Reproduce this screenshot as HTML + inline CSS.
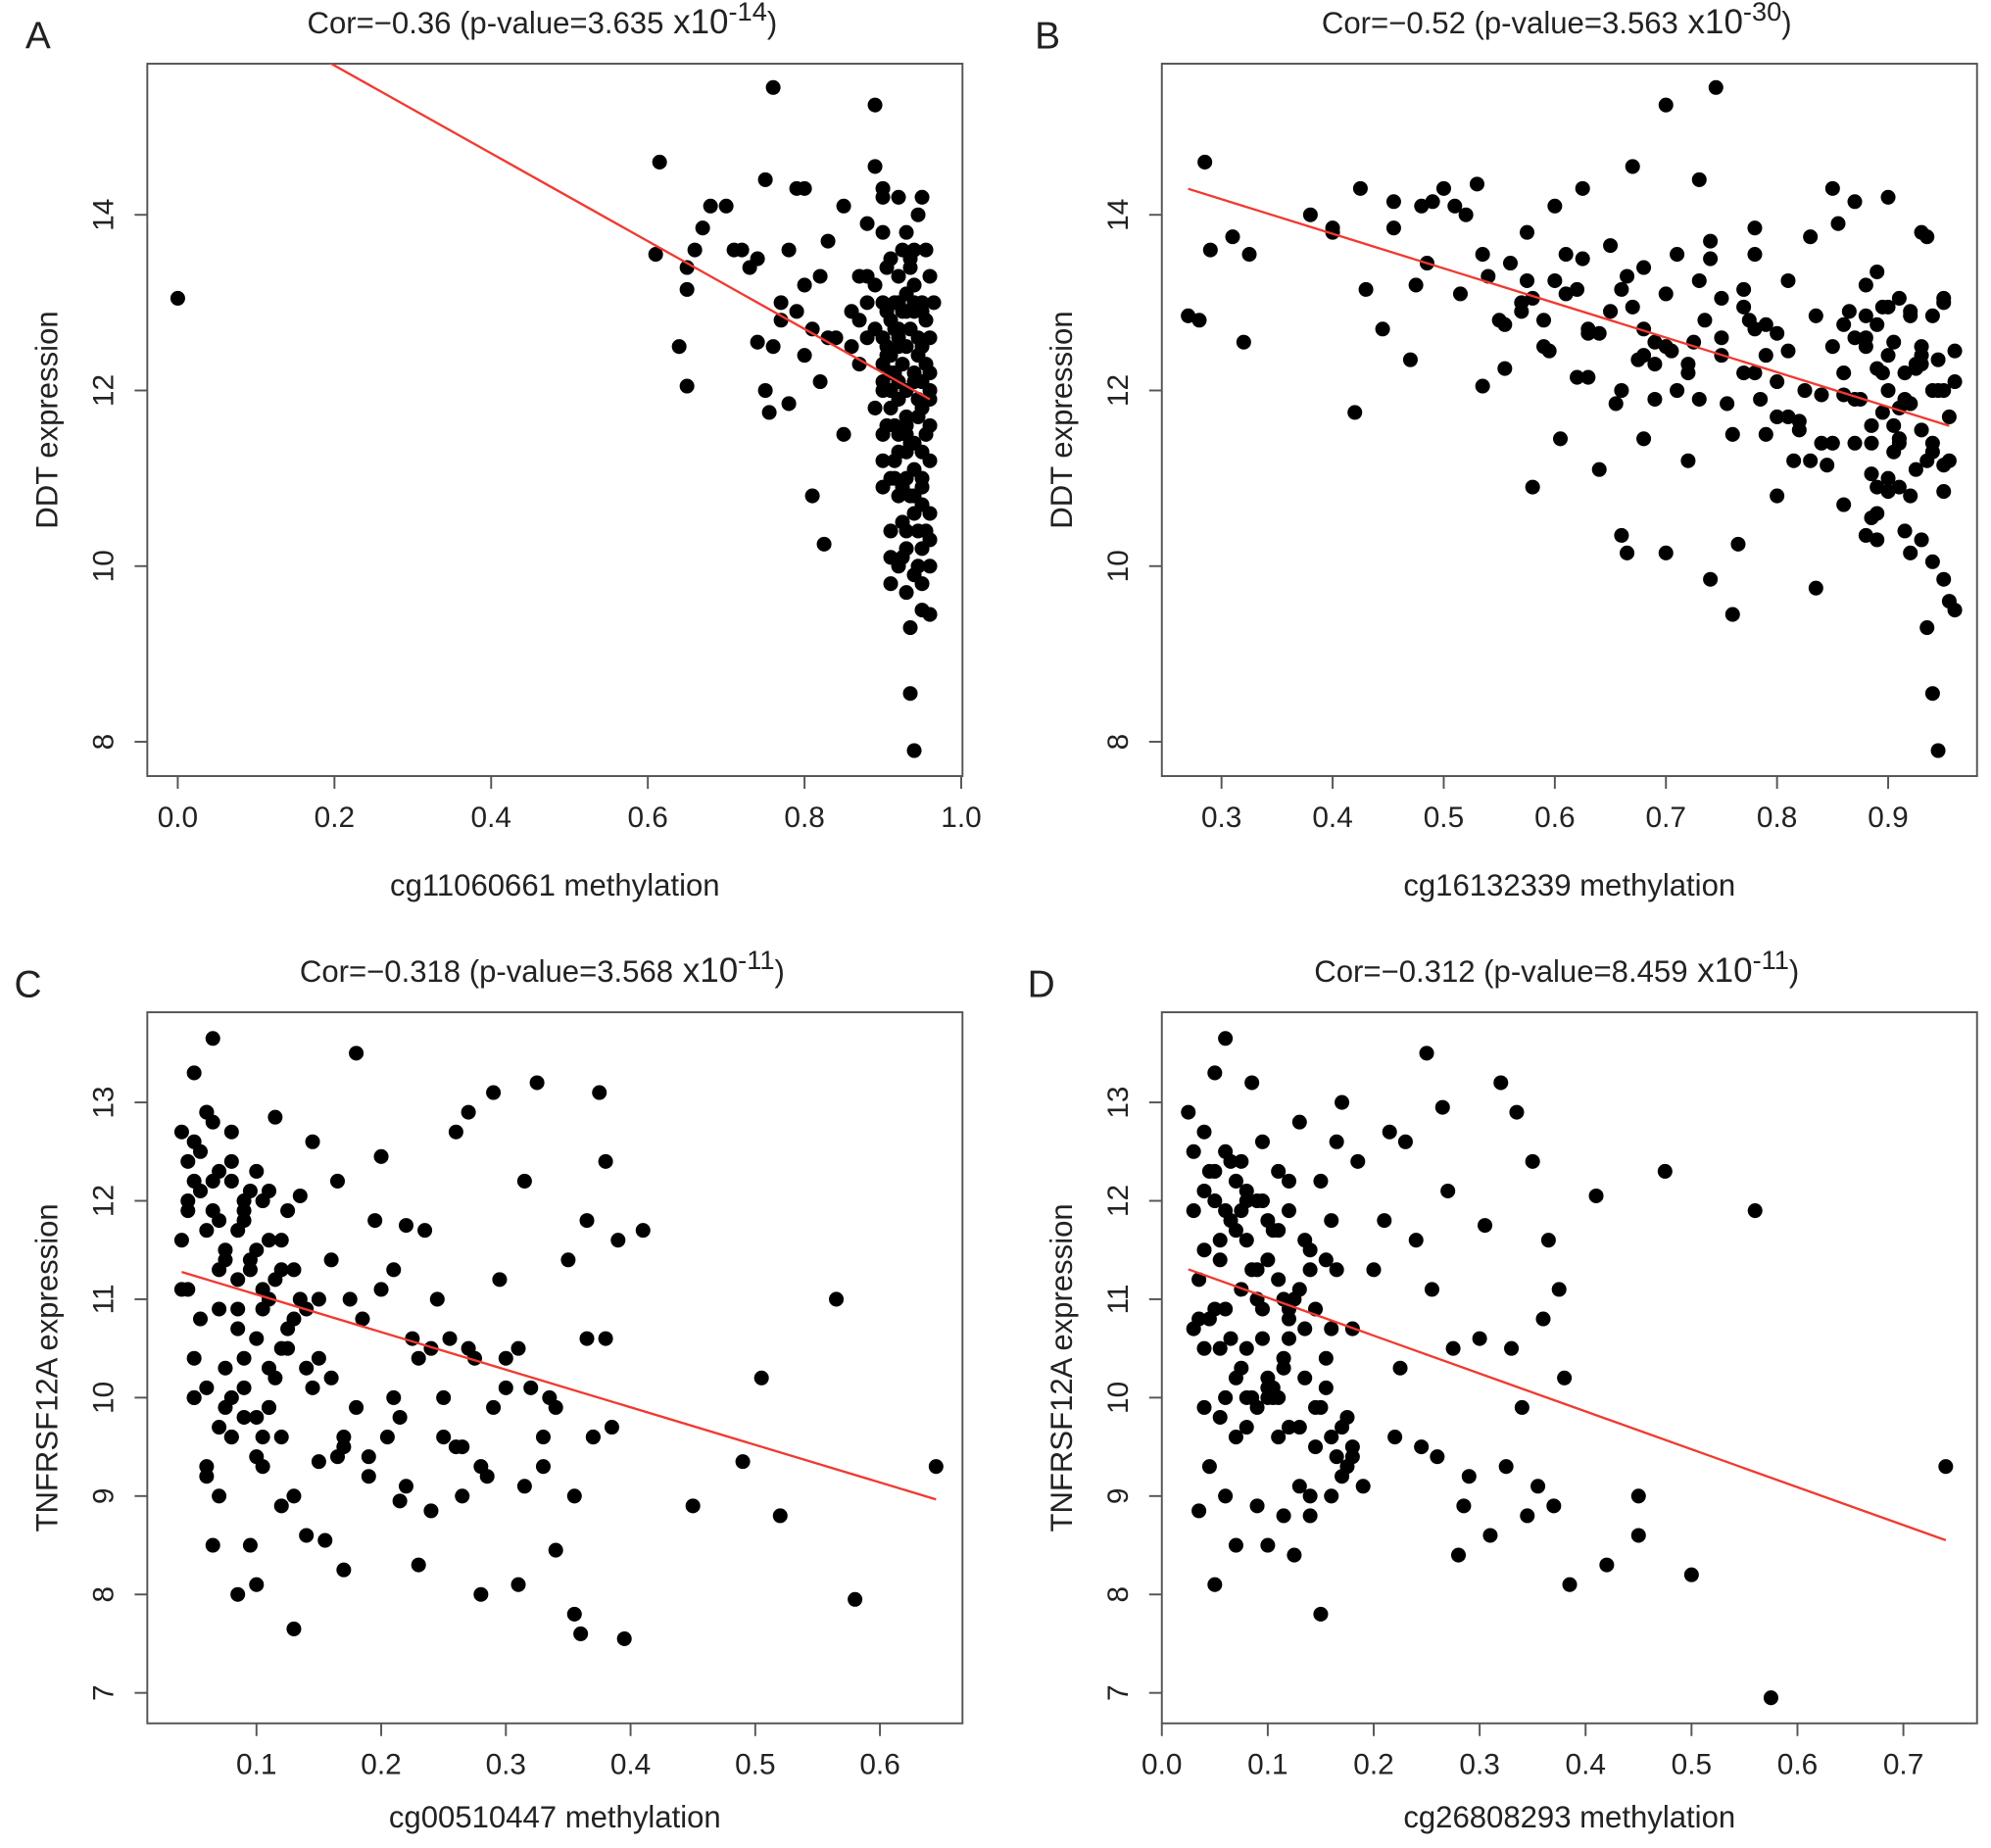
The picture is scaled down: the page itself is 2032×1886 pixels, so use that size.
<!DOCTYPE html>
<html><head><meta charset="utf-8"><style>
html,body{margin:0;padding:0;background:#fff}
svg{display:block}
text{font-family:"Liberation Sans","DejaVu Sans",sans-serif;fill:#222}
</style></head><body>
<svg id="fig" width="2032" height="1886" viewBox="0 0 1568 1455" xmlns="http://www.w3.org/2000/svg"></svg>
<script>
// Panel A data
const xA=[0.0,0.615,0.61,0.65,0.65,0.64,0.65,0.66,0.67,0.68,0.70,0.72,0.74,0.75,0.74,0.75,0.755,0.76,0.76,0.77,0.78,0.78,0.79,0.80,0.80,0.81,0.80,0.81,0.82,0.825,0.83,0.84,0.85,0.85,0.86,0.87,0.87,0.88,0.89,0.89,0.90,0.88,
0.90,0.91,0.92,0.93,0.94,0.95,0.96,0.92,0.93,0.94,0.95,0.94,0.93,0.95,0.96,0.935,0.935,0.94,0.91,0.92,0.90,0.91,0.90,0.89,0.92,0.95,0.93,0.94,0.96,0.95,0.96,0.94,0.93,0.92,0.91,0.96,0.95,0.96,0.93,0.92,0.91,0.95,0.94,0.93,0.92,0.91,0.90,0.89,0.88,0.87,0.90,0.89,0.90,0.96,0.95,0.94,0.93,0.92,0.955,0.945,0.925,0.915,0.905,0.935,0.945,0.925,0.955,0.965,0.90,0.905,0.915,0.945,0.91,0.95,0.96,0.93,0.94,0.92,0.93,0.95,0.925,0.915,0.935,0.945,0.955,0.905,0.915,0.925,0.935,0.945,
0.90,0.91,0.92,0.93,0.94,0.95,0.96,0.90,0.91,0.92,0.93,0.94,0.95,0.96,0.905,0.915,0.925,0.935,0.945,0.955,0.905,0.915,0.925,0.935,0.945,0.955,0.90,0.92,0.94,0.96,0.91,0.93,0.95,0.73,0.77,0.79,0.83,0.86,0.88,0.71,0.82];
const yA=[13.05,14.6,13.55,13.4,13.15,12.5,12.05,13.6,13.85,14.1,14.1,13.6,13.5,14.4,12.55,12.0,11.75,12.5,15.45,13.0,13.6,11.85,14.3,14.3,13.2,12.7,12.4,10.8,12.1,10.25,13.7,12.6,11.5,14.1,12.9,13.3,12.3,13.9,14.55,15.25,14.3,12.6,
13.0,12.8,13.3,12.5,12.2,11.8,11.9,11.5,11.0,10.6,10.2,9.9,9.7,9.5,9.45,9.3,8.55,7.9,10.4,10.8,11.2,11.8,12.3,12.7,14.2,14.2,13.8,13.6,13.3,12.9,12.6,12.9,12.0,12.1,12.4,11.2,11.0,10.6,10.4,10.0,9.8,10.9,11.4,11.7,13.0,13.5,13.8,13.2,13.0,12.8,12.0,11.8,10.9,12.2,12.5,13.2,13.1,12.7,11.5,10.0,10.5,11.2,11.6,12.7,12.4,12.3,13.6,13.0,14.2,13.4,13.0,14.0,12.0,9.8,10.0,10.2,10.8,11.3,11.3,11.3,12.9,12.2,11.4,11.9,12.3,12.5,11.0,10.1,13.5,12.6,
12.6,12.2,11.9,11.6,11.1,10.7,10.3,11.5,11.0,12.5,12.9,12.1,13.0,11.6,12.4,11.6,10.9,10.8,11.7,12.8,12.9,12.7,13.6,13.4,10.4,10.4,12.1,12.6,13.0,12.0,10.1,11.5,12.1,13.4,12.8,12.9,12.6,12.5,13.3,13.6,13.3];
// Panel B data
const xB=[0.27,0.28,0.285,0.29,0.31,0.32,0.325,0.38,0.40,0.40,0.42,0.425,0.43,0.445,0.455,0.455,0.47,0.475,0.48,0.485,0.49,0.50,0.51,0.515,0.52,0.53,0.535,0.535,0.54,0.555,0.56,0.555,0.57,0.575,0.575,0.58,0.58,0.59,0.595,0.60,0.60,0.605,0.61,0.62,0.62,0.625,0.625,0.63,0.63,0.64,0.65,0.655,0.66,0.665,0.665,0.67,0.67,0.675,0.68,0.68,0.68,0.69,0.69,0.70,0.70,0.705,0.71,0.71,0.72,0.72,0.725,0.73,0.73,0.735,0.74,0.74,0.745,0.75,0.75,0.755,0.76,0.765,0.77,0.77,0.775,0.78,0.78,0.78,0.785,0.79,0.79,0.80,0.80,0.80,0.81,0.81,0.815,0.82,0.825,0.83,0.835,0.84,0.84,0.845,0.85,0.85,0.855,0.86,0.86,0.865,0.87,0.87,0.875,0.88,0.88,0.885,0.885,0.89,0.89,0.89,0.895,0.895,0.90,0.90,0.90,0.905,0.905,0.91,0.91,0.91,0.915,0.915,0.92,0.92,0.92,0.925,0.925,0.93,0.93,0.93,0.93,0.935,0.935,0.94,0.94,0.94,0.945,0.945,0.95,0.95,0.95,0.955,0.955,0.96,0.96,0.88,0.885,0.89,0.9,0.91,0.92,0.94,0.95,0.87,0.86,0.835,0.82,0.79,0.76,0.74,0.7,0.66,0.64,
0.88,0.89,0.90,0.91,0.92,0.93,0.94,0.95,0.885,0.895,0.905,0.915,0.925,0.935,0.945,0.955,0.88,0.90,0.92,0.94,0.96,0.89,0.91,0.93,0.95,0.87,0.86,0.85,0.83,0.81,0.80,0.78,0.77,0.75,0.73,0.72,0.70,0.69,0.68,0.66,0.65,0.63,0.61,0.59,0.57,0.55];
const yB=[12.85,12.8,14.6,13.6,13.75,12.55,13.55,14.0,13.8,13.85,11.75,14.3,13.15,12.7,13.85,14.15,12.35,13.2,14.1,13.45,14.15,14.3,14.1,13.1,14.0,14.35,13.55,12.05,13.3,12.75,13.45,12.25,13.0,13.25,13.8,10.9,13.05,12.5,12.45,13.25,14.1,11.45,13.55,12.15,13.15,14.3,13.5,12.65,12.15,12.65,13.65,11.85,13.15,10.15,13.3,12.95,14.55,12.35,11.45,12.7,13.4,12.3,12.55,13.1,15.25,12.45,12.0,13.55,12.3,11.2,12.55,13.25,14.4,12.8,13.5,13.7,15.45,13.05,12.4,11.85,11.5,10.25,12.95,13.15,12.8,12.2,13.55,13.85,11.9,12.4,12.75,11.7,12.65,12.1,12.45,13.25,11.2,11.65,12.0,13.75,12.85,11.4,11.95,11.15,14.3,12.5,13.9,11.95,12.75,12.9,11.4,14.15,11.9,12.5,10.35,11.05,10.55,12.25,10.6,13.35,11.75,12.95,12.0,10.85,14.2,11.6,12.55,13.05,10.9,11.4,12.2,10.4,11.85,12.85,10.15,11.1,12.25,13.8,11.55,10.3,12.5,13.75,9.3,10.05,12.0,8.55,7.9,12.35,11.15,13.05,10.85,9.6,11.7,12.45,9.5,13.2,11.4,10.3,12.95,11.45,10.8,11.3,9.85,11.9,10.7,9.75,11.55,11.5,9.45,9.85,10.15,10.35,11.1,12.85,12.75,12.4,11.45,11.85,12.3,12.85,
12.0,11.6,12.2,11.3,11.9,12.3,11.2,12.0,11.2,12.6,11.0,12.9,11.4,12.1,10.9,11.8,12.4,13.0,12.6,12.2,11.4,11.2,11.7,10.8,12.7,12.2,12.6,11.9,12.2,12.5,11.9,12.4,12.0,12.9,12.7,13.1,12.8,12.9,12.8,12.6,13.0,12.7,12.45,13.0,12.95,13.3];
// Panel C data
const xC=[0.04,0.045,0.05,0.05,0.055,0.06,0.06,0.065,0.065,0.07,0.07,0.075,0.075,0.08,0.08,0.085,0.085,0.09,0.09,0.095,0.095,0.10,0.10,0.105,0.105,0.11,0.11,0.115,0.12,0.12,0.125,0.13,0.13,0.135,0.14,0.14,0.145,0.15,0.155,0.16,0.165,0.17,0.175,0.18,0.185,0.19,0.195,0.20,0.205,0.21,0.215,0.22,0.225,0.23,0.235,0.24,0.245,0.25,0.255,0.26,0.265,0.27,0.275,0.28,0.285,0.29,0.295,0.30,0.31,0.315,0.32,0.325,0.33,0.335,0.34,0.35,0.355,0.36,0.365,0.37,0.375,0.38,0.385,0.39,0.41,0.45,0.49,0.505,0.52,0.565,0.58,0.645,0.04,0.05,0.06,0.07,0.08,0.09,0.10,0.11,0.12,0.13,0.045,0.055,0.065,0.075,0.085,0.095,0.105,0.115,0.125,0.135,0.05,0.06,0.07,0.08,0.09,0.10,0.11,0.045,0.065,0.085,0.105,0.125,0.145,0.165,0.215,0.265,0.315,0.365,0.355,0.395,0.25,0.3,0.2,0.15,0.17,0.23,0.28,0.33,0.38,
0.04,0.05,0.06,0.07,0.08,0.09,0.10,0.11,0.12,0.045,0.055,0.065,0.075,0.085,0.095,0.105,0.115,0.05,0.06,0.07,0.08,0.09,0.10,0.11,0.12,0.14,0.16,0.18,0.13,0.15,0.17,0.19,0.21,0.22,0.24,0.26,0.27,0.29,0.31,0.34,0.37];
const yC=[12.7,11.1,13.3,10.0,12.1,11.7,9.3,13.65,8.5,12.3,10.9,9.9,11.5,12.7,9.6,11.2,8.0,10.4,12.0,8.5,11.4,10.6,8.1,12.0,9.6,11.0,9.9,12.85,10.5,8.9,11.9,9.0,7.65,12.05,10.3,8.6,12.6,11.0,8.55,10.2,12.2,8.25,11.0,13.5,10.8,9.2,11.8,12.45,9.6,11.3,8.95,11.75,10.6,8.3,11.7,8.85,11.0,9.6,10.6,12.7,9.0,12.9,10.4,8.0,9.2,13.1,11.2,10.4,8.1,12.2,10.1,13.2,9.3,10.0,8.45,11.4,9.0,7.6,11.8,9.6,13.1,12.4,9.7,11.6,11.7,8.9,9.35,10.2,8.8,11.0,7.95,9.3,11.1,12.6,12.9,11.8,12.2,11.9,11.5,12.1,11.6,10.8,11.9,12.5,12.2,11.4,10.7,11.3,10.9,11.2,10.5,11.0,10.0,9.2,9.0,9.6,10.1,9.8,10.3,12.4,12.8,11.7,9.3,10.7,10.1,9.4,9.8,9.5,9.1,10.6,7.8,7.55,10.0,10.1,11.1,9.35,9.5,10.4,9.3,9.6,10.6,
11.6,12.2,12.9,11.3,12.4,11.8,12.3,11.6,11.3,12.0,10.8,11.9,10.3,10.9,12.1,11.1,10.2,10.4,10.1,9.7,10.0,9.8,9.4,9.9,9.6,10.9,11.4,9.9,11.3,10.4,9.6,9.4,10.0,9.1,10.5,9.5,10.5,9.9,10.5,9.9,9.6];
// Panel D data
const xD=[0.025,0.03,0.035,0.04,0.045,0.05,0.05,0.055,0.06,0.06,0.065,0.07,0.07,0.075,0.08,0.08,0.085,0.09,0.09,0.095,0.10,0.10,0.105,0.11,0.11,0.115,0.12,0.12,0.125,0.13,0.13,0.135,0.14,0.14,0.145,0.15,0.15,0.155,0.16,0.16,0.165,0.17,0.17,0.175,0.18,0.185,0.19,0.20,0.21,0.215,0.22,0.225,0.23,0.24,0.245,0.25,0.255,0.26,0.265,0.27,0.275,0.28,0.285,0.29,0.30,0.305,0.31,0.32,0.325,0.33,0.335,0.34,0.345,0.35,0.355,0.36,0.365,0.37,0.375,0.38,0.385,0.41,0.42,0.45,0.45,0.475,0.50,0.56,0.575,0.74,0.03,0.04,0.05,0.06,0.07,0.08,0.09,0.10,0.11,0.12,0.13,0.035,0.045,0.055,0.065,0.075,0.085,0.095,0.105,0.115,0.125,0.135,0.145,0.155,0.165,0.175,0.04,0.06,0.08,0.1,0.12,0.14,0.16,0.18,0.055,0.075,0.095,0.115,0.135,0.155,
0.03,0.04,0.05,0.06,0.07,0.08,0.09,0.10,0.11,0.12,0.035,0.045,0.055,0.065,0.075,0.085,0.095,0.105,0.115,0.05,0.07,0.09,0.11,0.13,0.15,0.17,0.14,0.16,0.18,0.145,0.165,0.12,0.10,0.08,0.06,0.04];
const yD=[12.9,10.7,8.85,12.1,9.3,13.3,8.1,11.6,13.65,9.0,12.4,10.2,8.5,11.1,12.0,9.7,13.2,11.0,8.9,12.6,10.0,8.5,11.7,9.6,12.3,8.8,10.6,11.9,8.4,12.8,9.1,10.2,11.5,8.8,9.5,12.2,7.8,10.4,9.0,11.8,12.6,9.7,13.0,9.3,10.7,12.4,9.1,11.3,11.8,12.7,9.6,10.3,12.6,11.6,9.5,13.5,11.1,9.4,12.95,12.1,10.5,8.4,8.9,9.2,10.6,11.75,8.6,13.2,9.3,10.5,12.9,9.9,8.8,12.4,9.1,10.8,11.6,8.9,11.1,10.2,8.1,12.05,8.3,8.6,9.0,12.3,8.2,11.9,6.95,9.3,11.9,11.5,12.0,12.5,11.7,12.1,11.3,11.8,11.2,10.9,11.1,10.8,12.3,11.4,10.6,11.9,11.3,10.9,10.0,10.4,11.0,10.7,9.9,10.1,9.4,9.8,9.9,10.0,10.5,10.2,9.7,9.0,9.6,9.4,9.8,12.4,12.0,11.0,11.6,11.4,
12.5,12.7,12.3,11.9,12.2,11.6,12.0,11.4,11.7,12.2,11.2,10.8,10.5,11.8,10.3,10.0,10.6,10.1,10.3,10.9,9.6,9.9,10.0,9.7,9.9,9.2,11.3,10.7,9.5,10.9,11.3,10.8,10.1,10.0,10.9,10.5];
// Regression lines [intercept, slope]
const fitA=[16.7,-5.0], fitB=[15.36,-3.94], fitC=[11.43,-3.82], fitD=[11.4,-3.85];
// Ticks
const xTicksA=[0,0.2,0.4,0.6,0.8,1.0], xLabA=["0.0","0.2","0.4","0.6","0.8","1.0"];
const xTicksB=[0.3,0.4,0.5,0.6,0.7,0.8,0.9], xLabB=["0.3","0.4","0.5","0.6","0.7","0.8","0.9"];
const xTicksC=[0.1,0.2,0.3,0.4,0.5,0.6], xLabC=["0.1","0.2","0.3","0.4","0.5","0.6"];
const xTicksD=[0,0.1,0.2,0.3,0.4,0.5,0.6,0.7], xLabD=["0.0","0.1","0.2","0.3","0.4","0.5","0.6","0.7"];
const yTicksAB=[8,10,12,14], yTicksCD=[7,8,9,10,11,12,13];

const NS="http://www.w3.org/2000/svg";
const svg=document.getElementById('fig');
function mk(tag,attrs,parent){const e=document.createElementNS(NS,tag);for(const k in attrs)e.setAttribute(k,attrs[k]);(parent||svg).appendChild(e);return e;}

const panels=[
 {id:'a',letter:'A',lx:30,box:[116,50,758,611],xr:[0,140,1,757],yr:[14,169,8,584],xs:xA,ys:yA,fit:fitA,fx:[0,0.96],xt:xTicksA,xl:xLabA,yt:yTicksAB,ylab:'DDT expression',xlab:'cg11060661 methylation',cor:'Cor=\u22120.36 (p-value=3.635',exp:'-14',xo:94},
 {id:'b',letter:'B',lx:825,box:[915,50,1557,611],xr:[0.3,962,0.9,1487],yr:[14,169,8,584],xs:xB,ys:yB,fit:fitB,fx:[0.27,0.955],xt:xTicksB,xl:xLabB,yt:yTicksAB,ylab:'DDT expression',xlab:'cg16132339 methylation',cor:'Cor=\u22120.52 (p-value=3.563',exp:'-30',xo:94},
 {id:'c',letter:'C',lx:22,box:[116,797,758,1357],xr:[0.1,202,0.6,693],yr:[13,868,7,1333],xs:xC,ys:yC,fit:fitC,fx:[0.04,0.645],xt:xTicksC,xl:xLabC,yt:yTicksCD,ylab:'TNFRSF12A expression',xlab:'cg00510447 methylation',cor:'Cor=\u22120.318 (p-value=3.568',exp:'-11',xo:82},
 {id:'d',letter:'D',lx:820,box:[915,797,1557,1357],xr:[0,915,0.7,1499],yr:[13,868,7,1333],xs:xD,ys:yD,fit:fitD,fx:[0.025,0.74],xt:xTicksD,xl:xLabD,yt:yTicksCD,ylab:'TNFRSF12A expression',xlab:'cg26808293 methylation',cor:'Cor=\u22120.312 (p-value=8.459',exp:'-11',xo:82}
];

panels.forEach(p=>{
 const g=mk('g',{});
 
 
 const sx=v=>p.xr[1]+(v-p.xr[0])*(p.xr[3]-p.xr[1])/(p.xr[2]-p.xr[0]);
 const sy=v=>p.yr[1]+(v-p.yr[0])*(p.yr[3]-p.yr[1])/(p.yr[2]-p.yr[0]);
 const [x0,y0,x1,y1]=p.box;
 const cx=(x0+x1)/2, cy=(y0+y1)/2;
 const L=mk('text',{x:p.lx,y:y0-12,'font-size':30,'text-anchor':'middle'},g);L.textContent=p.letter;
 
 
 const T=mk('text',{x:cx-10,y:y0-24,'font-size':24,'text-anchor':'middle'},g);
 
 
 const t1=mk('tspan',{},T);t1.textContent=p.cor;
 const t2=mk('tspan',{'font-size':27},T);t2.textContent=' x10';
 const t3=mk('tspan',{'font-size':21,dy:-10},T);t3.textContent=p.exp;
 const t4=mk('tspan',{dy:10},T);t4.textContent=')';
 const cp=mk('clipPath',{id:'clip'+p.id},g);mk('rect',{x:x0,y:y0,width:x1-x0,height:y1-y0},cp);
 const box=mk('rect',{x:x0,y:y0,width:x1-x0,height:y1-y0,fill:'none',stroke:'#555','stroke-width':1.5},g);
 
 
 p.xt.forEach((v,i)=>{const X=sx(v);mk('line',{x1:X,x2:X,y1:y1,y2:y1+10,stroke:'#555','stroke-width':1.5},g);
  const t=mk('text',{x:X,y:y1+40,'font-size':23,'text-anchor':'middle'},g);t.textContent=p.xl[i];
  
  });
 p.yt.forEach(v=>{const Y=sy(v);mk('line',{x1:x0-10,x2:x0,y1:Y,y2:Y,stroke:'#555','stroke-width':1.5},g);
  const t=mk('text',{x:x0-27,y:Y,'font-size':23,'text-anchor':'middle',transform:`rotate(-90 ${x0-27} ${Y})`},g);t.textContent=String(v);
  
  });
 const xt=mk('text',{x:cx,y:y1+p.xo,'font-size':24,'text-anchor':'middle'},g);xt.textContent=p.xlab;
 
 
 const yx=x0-71;
 const yt=mk('text',{x:yx,y:cy,'font-size':24,'text-anchor':'middle',transform:`rotate(-90 ${yx} ${cy})`},g);yt.textContent=p.ylab;
 
 
 const pts=mk('g',{fill:'#000'},g);
 
 
 p.xs.forEach((v,i)=>{const c=mk('circle',{cx:sx(v),cy:sy(p.ys[i]),r:5.8},pts);
  
  });
 const ln=mk('line',{x1:sx(p.fx[0]),y1:sy(p.fit[0]+p.fit[1]*p.fx[0]),x2:sx(p.fx[1]),y2:sy(p.fit[0]+p.fit[1]*p.fx[1]),stroke:'#f03a30','stroke-width':1.8,'clip-path':`url(#clip${p.id})`},g);
 
 
});
</script>
</body></html>
